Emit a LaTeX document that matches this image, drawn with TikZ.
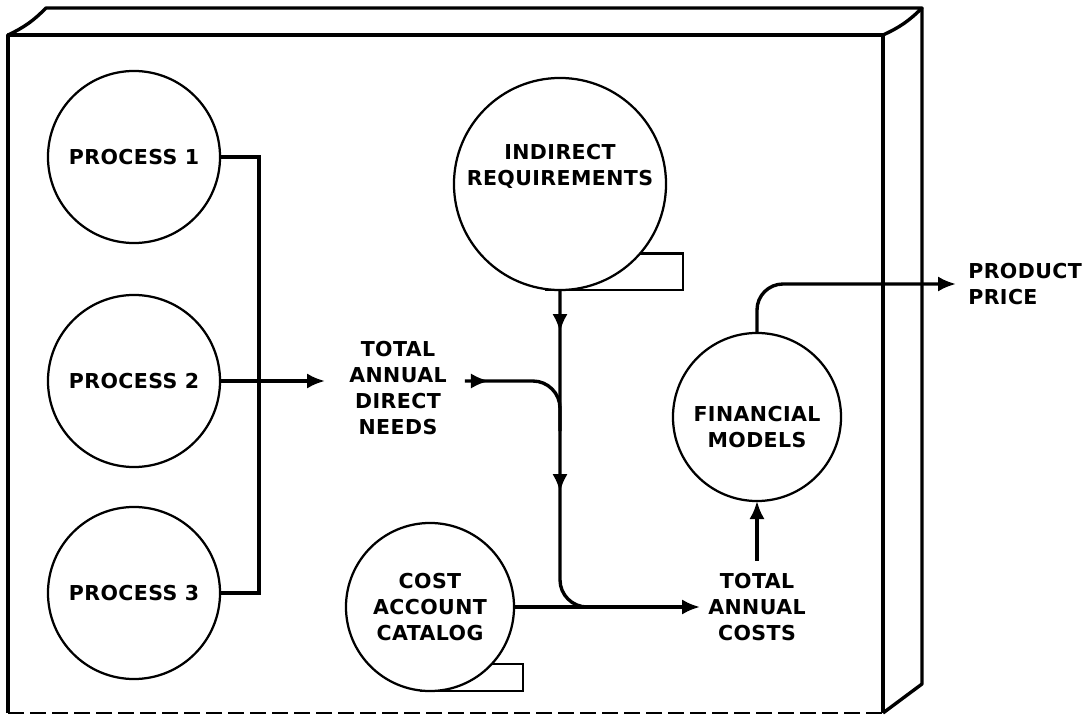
\documentclass[tikz,border=0pt]{standalone}
\usepackage{fontspec}
\newfontfamily\flowfont{DejaVu Sans}[LetterSpace=2]
\usetikzlibrary{arrows.meta, calc, decorations.markings}

\tikzset{
  txt/.style={font=\flowfont\bfseries\fontsize{14.6}{18.6}\selectfont, align=center, inner sep=0pt},
  proc/.style={txt, circle, draw, line width=1.6pt, outer sep=0pt, minimum size=4.3cm},
  tape/.style={circle, draw, line width=1.6pt, outer sep=0pt},
  tapeline/.style={line width=1.6pt},
  flow/.style={line width=2.4pt},
  arr/.style={-{Latex[length=0.45cm,width=0.38cm]}},
  box/.style={line width=2.4pt, line join=round},
  dirmark/.style={postaction={decorate, decoration={markings,
      mark=at position #1 with {\arrow{Latex[length=0.45cm,width=0.38cm]}}}}}
}

\begin{document}
\begin{tikzpicture}[x=0.025cm, y=-0.025cm]
\useasboundingbox (0,0) rectangle (1092,715);

\coordinate (c0) at (8,713);
\coordinate (c1) at (8,35);
\coordinate (c2) at (883,35);
\coordinate (c3) at (883,713);
\coordinate (c4) at (46,8);
\coordinate (c5) at (922,8);
\coordinate (c6) at (922,684);

% front face
  \draw[box] (c0) -- (c1) -- (c2) -- (c3);
  \draw[box, line width=1.3pt, dash pattern=on 0.4cm off 0.15cm] (c0) -- (c3);

% top face
  \draw[box] (c1) to[bend right=10] (c4) -- (c5) to[bend left=10] (c2);

% side face
  \draw[box] (c5) -- (c6) -- (c3);

% processes
\node[proc] (p1) at (134,157) {PROCESS 1};
\node[proc] (p2) at (134,381) {PROCESS 2};
\node[proc] (p3) at (134,593) {PROCESS 3};

% stored data
\node[tape, minimum size=5.3cm,
  label={[txt, yshift=0.45cm]center:{INDIRECT\\REQUIREMENTS}}] (ind) at (560,184) {};
  \draw[tapeline] (ind.-41) -| ($(ind.south)+(123,0)$) -- ($(ind.south)+(-15,0)$);

\node[tape, txt, minimum size=4.2cm] (cost) at (430,607) {COST\\ACCOUNT\\CATALOG};
  \draw[tapeline] (cost.-43) -| ($(cost.south)+(93,0)$) -- ($(cost.south)+(-10,0)$);

\node[tape, minimum size=4.2cm,
  label={[txt, yshift=-0.25cm]center:{FINANCIAL\\MODELS}}] (fm) at (757,417) {};

% flow texts
\node[txt] (tadn) at (398,388) {TOTAL\\ANNUAL\\DIRECT\\NEEDS};
\node[txt] (tac) at (757,607) {TOTAL\\ANNUAL\\COSTS};
\node[txt, align=left, anchor=west] (price) at (968,284) {PRODUCT\\PRICE};

\coordinate (bus1) at (259,157);
\coordinate (bus3) at (259,593);

% process 1 and 3 tie line
  \draw[flow] (p1.east) -- (bus1) -- (bus3) -- (p3.east);

% process 2 to direct needs
  \draw[flow, arr, shorten >=0.6cm] (p2.east) -- (p2.east -| tadn.west);

% direct needs into indirect flow
  \draw[flow, rounded corners=0.68cm, dirmark=0.6cm]
    ($(tadn.east |- p2.east)+(18,0)$) -- (ind.south |- p2.east) -- ++(0,50);

% indirect down to costs
  \draw[flow, rounded corners=0.68cm, dirmark=1.05cm, dirmark=5.05cm]
    (ind.south) -- (ind.south |- cost.east) -- ++(60,0);

% catalog to total costs
  \draw[flow, arr, shorten >=0.2cm] (cost.east) -- (cost.east -| tac.west);

% total costs up to models
  \draw[flow, arr, shorten <=0.3cm] (tac.north) -- (fm.south);

% models out to price
  \draw[flow, arr, rounded corners=0.65cm, shorten >=0.3cm] (fm.north) |- (price.west);

\end{tikzpicture}
\end{document}
